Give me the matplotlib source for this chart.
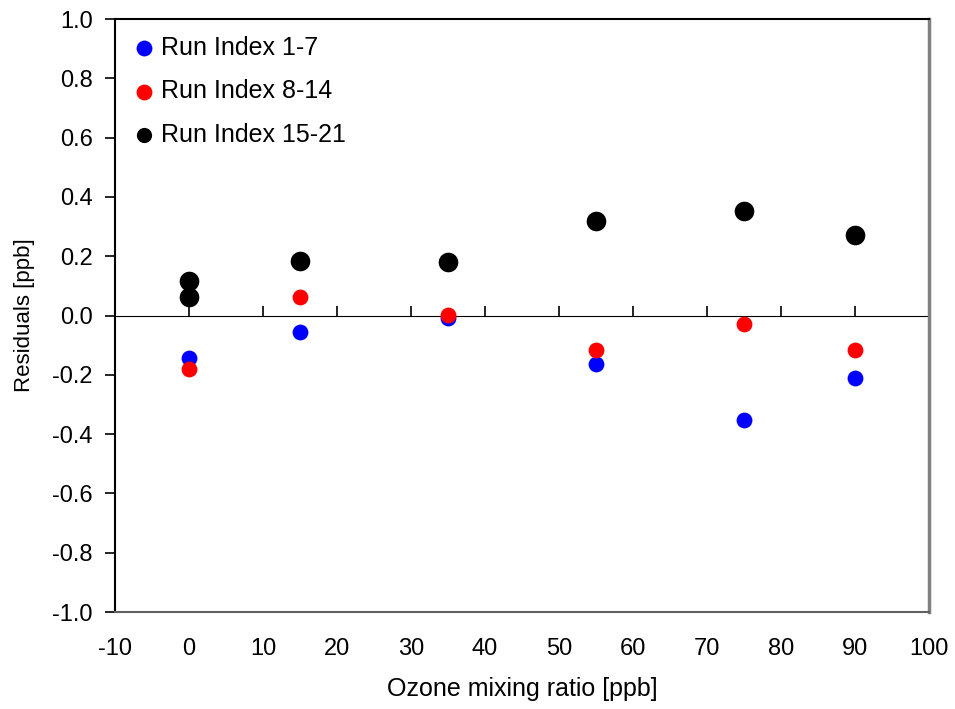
import matplotlib
matplotlib.use('Agg')
import matplotlib.pyplot as plt

plt.rcParams['font.family'] = ['Liberation Sans', 'DejaVu Sans']

# ozone mixing ratio [ppb]
ozone = [0, 15, 35, 55, 75, 90]

# residuals [ppb]
run_1_7 = [-0.145, -0.057, -0.010, -0.165, -0.354, -0.212]
run_8_14 = [-0.179, 0.064, 0.003, -0.118, -0.027, -0.118]
ozone_15_21 = [0, 0, 15, 35, 55, 75, 90]
run_15_21 = [0.115, 0.061, 0.185, 0.179, 0.320, 0.354, 0.273]

labels = ['Run Index 1-7', 'Run Index 8-14', 'Run Index 15-21']

x_ticks = list(range(-10, 101, 10))
y_ticks = [-1.0, -0.8, -0.6, -0.4, -0.2, 0.0, 0.2, 0.4, 0.6, 0.8, 1.0]


def main():
  fig = plt.figure(figsize=(9.55, 7.09), dpi=100)
  ax = fig.add_axes([0.1204, 0.1368, 0.8524, 0.8364])

  ax.scatter(ozone, run_1_7, s=130, color='#0000ff', label=labels[0], zorder=3, linewidths=0)
  ax.scatter(ozone, run_8_14, s=130, color='#ff0000', label=labels[1], zorder=4, linewidths=0)
  ax.scatter(ozone_15_21, run_15_21, s=200, color='#000000', label=labels[2], zorder=5, linewidths=0)

  ax.set_xlim(-10, 100)
  ax.set_ylim(-1.0, 1.0)
  ax.set_xticks(x_ticks)
  ax.set_yticks(y_ticks)
  ax.set_xticklabels(['%d' % v for v in x_ticks])
  ax.set_yticklabels(['%.1f' % v for v in y_ticks])

  # frame
  ax.spines['left'].set_color('black')
  ax.spines['left'].set_linewidth(1.5)
  ax.spines['top'].set_color('black')
  ax.spines['top'].set_linewidth(1.5)
  ax.spines['right'].set_color('#808080')
  ax.spines['right'].set_linewidth(2.5)
  ax.spines['bottom'].set_color('#606060')
  ax.spines['bottom'].set_linewidth(1.5)

  ax.tick_params(axis='y', direction='out', length=7, width=1.2, pad=9, labelsize=17)
  ax.tick_params(axis='x', length=0, pad=19, labelsize=17)

  # x axis crossing at zero with ticks pointing down
  sec = ax.secondary_xaxis(0.5)
  sec.set_xticks(x_ticks)
  sec.tick_params(axis='x', direction='out', length=7, width=1.2, labelbottom=False)
  sec.set_xticklabels([])
  sec.spines['bottom'].set_linewidth(1.5)
  sec.spines['bottom'].set_color('black')

  ax.set_xlabel('Ozone mixing ratio [ppb]', fontsize=18, labelpad=12)
  ax.set_ylabel('Residuals [ppb]', fontsize=16, labelpad=12)

  leg = ax.legend(loc='upper left', bbox_to_anchor=(0.021, 0.972), frameon=False,
                  fontsize=18, handlelength=0.95, handletextpad=0.2, labelspacing=0.78,
                  borderpad=0, borderaxespad=0)
  leg.legend_handles[0].set_sizes([130])
  leg.legend_handles[1].set_sizes([130])
  leg.legend_handles[2].set_sizes([120])

  fig.savefig('out.png', dpi=100)


if __name__ == "__main__":
  main()
